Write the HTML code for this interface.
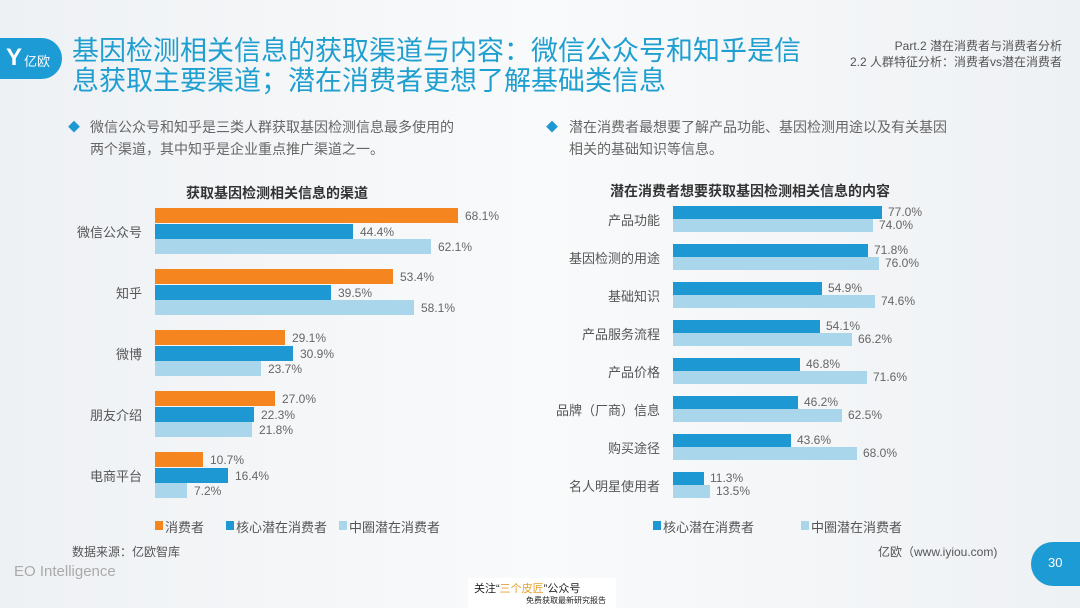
<!DOCTYPE html>
<html><head><meta charset="utf-8"><style>
*{margin:0;padding:0;box-sizing:border-box}
body{width:1080px;height:608px;overflow:hidden;position:relative;background:linear-gradient(90deg,#eef1f4 0%,#f9fafb 50%,#eef1f4 100%);font-family:"Liberation Sans","Noto Sans CJK SC",sans-serif;color:#555}
.a{position:absolute;white-space:nowrap}
.b{position:absolute}
.o{background:#f5861f}.d{background:#1e98d2}.l{background:#aad6ec}
.v{position:absolute;font-size:12px;color:#666;line-height:14px;white-space:nowrap}
.c{position:absolute;font-size:13px;color:#555;text-align:right;white-space:nowrap}
</style></head><body>
<div class="b" style="left:0;top:38px;width:62px;height:41px;background:#1d9bd5;border-radius:0 21px 21px 0"></div>
<div class="a" style="left:6px;top:44px;font-size:24px;color:#fff;font-weight:bold">Y</div>
<div class="a" style="left:24px;top:51px;font-size:13px;color:#fff">亿欧</div>
<div class="a" style="left:72px;top:36px;font-size:27px;line-height:30px;color:#1f9fd0">基因检测相关信息的获取渠道与内容：微信公众号和知乎是信<br>息获取主要渠道；潜在消费者更想了解基础类信息</div>
<div class="a" style="right:18px;top:38px;font-size:12px;line-height:16px;color:#555;text-align:right">Part.2 潜在消费者与消费者分析<br>2.2 人群特征分析：消费者vs潜在消费者</div>
<div class="a" style="left:68px;top:118px;font-size:12px;color:#1e98d2">◆</div>
<div class="a" style="left:90px;top:116px;font-size:14px;line-height:22px;color:#666">微信公众号和知乎是三类人群获取基因检测信息最多使用的<br>两个渠道，其中知乎是企业重点推广渠道之一。</div>
<div class="a" style="left:546px;top:118px;font-size:12px;color:#1e98d2">◆</div>
<div class="a" style="left:569px;top:116px;font-size:14px;line-height:22px;color:#666">潜在消费者最想要了解产品功能、基因检测用途以及有关基因<br>相关的基础知识等信息。</div>
<div class="a" style="left:186px;top:183px;font-size:14px;font-weight:bold;color:#333">获取基因检测相关信息的渠道</div>
<div class="a" style="left:610px;top:181px;font-size:14px;font-weight:bold;color:#333">潜在消费者想要获取基因检测相关信息的内容</div>

<!-- left chart -->
<div class="c" style="right:938px;top:222px">微信公众号</div>
<div class="b o" style="left:155px;top:208px;width:303px;height:15px"></div><div class="v" style="left:465px;top:209px">68.1%</div>
<div class="b d" style="left:155px;top:224px;width:198px;height:15px"></div><div class="v" style="left:360px;top:225px">44.4%</div>
<div class="b l" style="left:155px;top:239px;width:276px;height:15px"></div><div class="v" style="left:438px;top:240px">62.1%</div>

<div class="c" style="right:938px;top:283px">知乎</div>
<div class="b o" style="left:155px;top:269px;width:238px;height:15px"></div><div class="v" style="left:400px;top:270px">53.4%</div>
<div class="b d" style="left:155px;top:285px;width:176px;height:15px"></div><div class="v" style="left:338px;top:286px">39.5%</div>
<div class="b l" style="left:155px;top:300px;width:259px;height:15px"></div><div class="v" style="left:421px;top:301px">58.1%</div>

<div class="c" style="right:938px;top:344px">微博</div>
<div class="b o" style="left:155px;top:330px;width:130px;height:15px"></div><div class="v" style="left:292px;top:331px">29.1%</div>
<div class="b d" style="left:155px;top:346px;width:138px;height:15px"></div><div class="v" style="left:300px;top:347px">30.9%</div>
<div class="b l" style="left:155px;top:361px;width:106px;height:15px"></div><div class="v" style="left:268px;top:362px">23.7%</div>

<div class="c" style="right:938px;top:405px">朋友介绍</div>
<div class="b o" style="left:155px;top:391px;width:120px;height:15px"></div><div class="v" style="left:282px;top:392px">27.0%</div>
<div class="b d" style="left:155px;top:407px;width:99px;height:15px"></div><div class="v" style="left:261px;top:408px">22.3%</div>
<div class="b l" style="left:155px;top:422px;width:97px;height:15px"></div><div class="v" style="left:259px;top:423px">21.8%</div>

<div class="c" style="right:938px;top:466px">电商平台</div>
<div class="b o" style="left:155px;top:452px;width:48px;height:15px"></div><div class="v" style="left:210px;top:453px">10.7%</div>
<div class="b d" style="left:155px;top:468px;width:73px;height:15px"></div><div class="v" style="left:235px;top:469px">16.4%</div>
<div class="b l" style="left:155px;top:483px;width:32px;height:15px"></div><div class="v" style="left:194px;top:484px">7.2%</div>

<!-- right chart -->
<div class="c" style="right:420px;top:210px">产品功能</div>
<div class="b d" style="left:673px;top:206px;width:209px;height:13px"></div><div class="v" style="left:888px;top:205px">77.0%</div>
<div class="b l" style="left:673px;top:219px;width:200px;height:13px"></div><div class="v" style="left:879px;top:218px">74.0%</div>
<div class="c" style="right:420px;top:248px">基因检测的用途</div>
<div class="b d" style="left:673px;top:244px;width:195px;height:13px"></div><div class="v" style="left:874px;top:243px">71.8%</div>
<div class="b l" style="left:673px;top:257px;width:206px;height:13px"></div><div class="v" style="left:885px;top:256px">76.0%</div>
<div class="c" style="right:420px;top:286px">基础知识</div>
<div class="b d" style="left:673px;top:282px;width:149px;height:13px"></div><div class="v" style="left:828px;top:281px">54.9%</div>
<div class="b l" style="left:673px;top:295px;width:202px;height:13px"></div><div class="v" style="left:881px;top:294px">74.6%</div>
<div class="c" style="right:420px;top:324px">产品服务流程</div>
<div class="b d" style="left:673px;top:320px;width:147px;height:13px"></div><div class="v" style="left:826px;top:319px">54.1%</div>
<div class="b l" style="left:673px;top:333px;width:179px;height:13px"></div><div class="v" style="left:858px;top:332px">66.2%</div>
<div class="c" style="right:420px;top:362px">产品价格</div>
<div class="b d" style="left:673px;top:358px;width:127px;height:13px"></div><div class="v" style="left:806px;top:357px">46.8%</div>
<div class="b l" style="left:673px;top:371px;width:194px;height:13px"></div><div class="v" style="left:873px;top:370px">71.6%</div>
<div class="c" style="right:420px;top:400px">品牌（厂商）信息</div>
<div class="b d" style="left:673px;top:396px;width:125px;height:13px"></div><div class="v" style="left:804px;top:395px">46.2%</div>
<div class="b l" style="left:673px;top:409px;width:169px;height:13px"></div><div class="v" style="left:848px;top:408px">62.5%</div>
<div class="c" style="right:420px;top:438px">购买途径</div>
<div class="b d" style="left:673px;top:434px;width:118px;height:13px"></div><div class="v" style="left:797px;top:433px">43.6%</div>
<div class="b l" style="left:673px;top:447px;width:184px;height:13px"></div><div class="v" style="left:863px;top:446px">68.0%</div>
<div class="c" style="right:420px;top:476px">名人明星使用者</div>
<div class="b d" style="left:673px;top:472px;width:31px;height:13px"></div><div class="v" style="left:710px;top:471px">11.3%</div>
<div class="b l" style="left:673px;top:485px;width:37px;height:13px"></div><div class="v" style="left:716px;top:484px">13.5%</div>

<!-- legends -->
<div class="b o" style="left:155px;top:521px;width:8px;height:9px"></div><div class="a" style="left:165px;top:517px;font-size:13px">消费者</div>
<div class="b d" style="left:226px;top:521px;width:8px;height:9px"></div><div class="a" style="left:236px;top:517px;font-size:13px">核心潜在消费者</div>
<div class="b l" style="left:339px;top:521px;width:8px;height:9px"></div><div class="a" style="left:349px;top:517px;font-size:13px">中圈潜在消费者</div>
<div class="b d" style="left:653px;top:521px;width:8px;height:9px"></div><div class="a" style="left:663px;top:517px;font-size:13px">核心潜在消费者</div>
<div class="b l" style="left:801px;top:521px;width:8px;height:9px"></div><div class="a" style="left:811px;top:517px;font-size:13px">中圈潜在消费者</div>

<div class="a" style="left:72px;top:543px;font-size:12px;color:#555">数据来源：亿欧智库</div>
<div class="a" style="left:878px;top:543px;font-size:12px;color:#555">亿欧（www.iyiou.com)</div>
<div class="a" style="left:14px;top:563px;font-size:15px;color:#aaa">EO Intelligence</div>
<div class="b" style="left:1031px;top:542px;width:60px;height:44px;background:#1d9bd5;border-radius:22px 0 0 22px"></div>
<div class="a" style="left:1048px;top:555px;font-size:13px;color:#fff">30</div>
<div class="b" style="left:468px;top:578px;width:148px;height:30px;background:#fff"></div>
<div class="a" style="left:474px;top:580px;font-size:11px;color:#222">关注“<span style="color:#e8a030">三个皮匠</span>”公众号</div>
<div class="a" style="left:526px;top:595px;font-size:8px;color:#222">免费获取最新研究报告</div>
</body></html>
